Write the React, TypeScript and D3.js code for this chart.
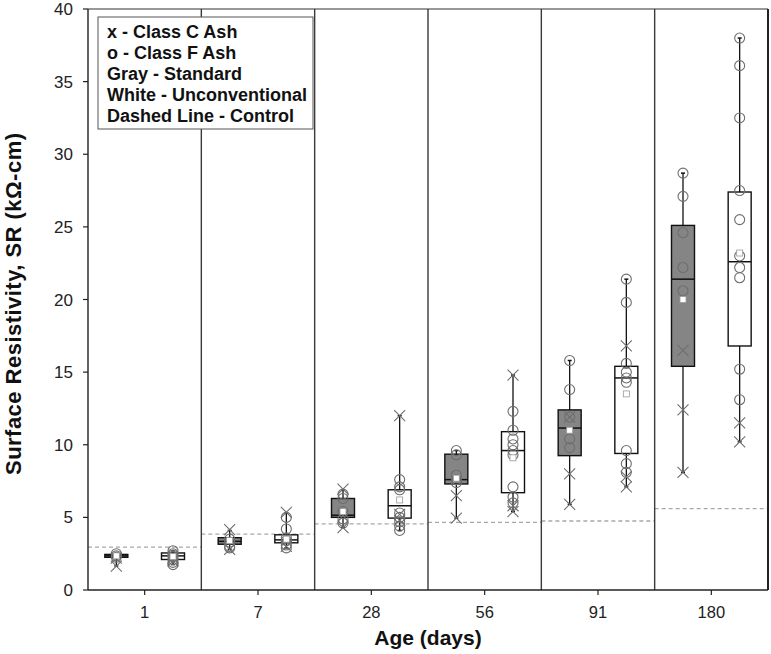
import React from "react";
import * as d3 from "d3";

const ages = ["1", "7", "28", "56", "91", "180"];
const types = ["Standard", "Unconventional"];
const yTicks = [0, 5, 10, 15, 20, 25, 30, 35, 40];
const controlSR = [2.95, 3.85, 4.55, 4.65, 4.75, 5.6];

// [age, type, q1, median, q3, whiskerLow, whiskerHigh, mean]
const boxStats: [string, string, number, number, number, number, number, number][] = [
  ["1", "Standard", 2.25, 2.35, 2.45, 1.65, 2.55, 2.35],
  ["1", "Unconventional", 2.1, 2.35, 2.55, 1.75, 2.7, 2.3],
  ["7", "Standard", 3.15, 3.35, 3.6, 2.8, 4.1, 3.4],
  ["7", "Unconventional", 3.25, 3.45, 3.8, 2.9, 5.3, 3.5],
  ["28", "Standard", 5.0, 5.15, 6.3, 4.3, 6.9, 5.4],
  ["28", "Unconventional", 4.95, 5.8, 6.9, 4.1, 12.0, 6.2],
  ["56", "Standard", 7.3, 7.6, 9.35, 4.95, 9.6, 7.7],
  ["56", "Unconventional", 6.7, 9.6, 10.9, 5.4, 14.8, 9.1],
  ["91", "Standard", 9.25, 11.15, 12.4, 5.9, 15.8, 11.0],
  ["91", "Unconventional", 9.4, 14.6, 15.4, 7.1, 21.4, 13.5],
  ["180", "Standard", 15.4, 21.4, 25.1, 8.1, 28.7, 20.0],
  ["180", "Unconventional", 16.8, 22.6, 27.4, 10.2, 38.0, 23.2],
];

// Class C ash (x markers)
const classC: [string, string, number[]][] = [
  ["1", "Standard", [1.65, 2.2]],
  ["1", "Unconventional", [2.2, 2.0]],
  ["7", "Standard", [4.15, 2.8]],
  ["7", "Unconventional", [5.35, 3.0]],
  ["28", "Standard", [6.95, 4.3, 5.1]],
  ["28", "Unconventional", [12.0, 5.2, 4.8]],
  ["56", "Standard", [6.5, 4.95]],
  ["56", "Unconventional", [14.8, 5.8, 5.4]],
  ["91", "Standard", [11.9, 8.0, 5.9]],
  ["91", "Unconventional", [16.8, 7.8, 7.1]],
  ["180", "Standard", [16.5, 12.4, 8.1]],
  ["180", "Unconventional", [11.5, 10.2]],
];

// Class F ash (o markers)
const classF: [string, string, number[]][] = [
  ["1", "Standard", [2.5, 2.35, 2.25]],
  ["1", "Unconventional", [2.7, 2.5, 2.4, 2.3, 2.1, 1.9, 1.75]],
  ["7", "Standard", [3.5, 3.3, 3.0, 2.9]],
  ["7", "Unconventional", [5.0, 4.2, 3.6, 3.4, 3.1, 2.9]],
  ["28", "Standard", [6.6, 6.3, 5.4, 4.9, 4.6]],
  ["28", "Unconventional", [7.6, 7.1, 6.9, 5.3, 5.0, 4.7, 4.4, 4.1]],
  ["56", "Standard", [9.6, 9.3, 7.9, 7.6, 7.4]],
  ["56", "Unconventional", [12.3, 11.0, 10.4, 10.0, 9.6, 9.3, 7.1, 6.4, 6.0]],
  ["91", "Standard", [15.8, 13.8, 11.9, 10.4, 9.8]],
  ["91", "Unconventional", [21.4, 19.8, 15.6, 15.0, 14.6, 14.3, 9.6, 8.7, 8.1]],
  ["180", "Standard", [28.7, 27.1, 24.6, 22.2, 20.6]],
  ["180", "Unconventional", [38.0, 36.1, 32.5, 27.5, 25.5, 23.0, 22.2, 21.5, 15.2, 13.1]],
];

const legendLines = [
  "x - Class C Ash",
  "o - Class F Ash",
  "Gray - Standard",
  "White - Unconventional",
  "Dashed Line - Control",
];

const W = 771;
const H = 654;
const left = 88;
const right = 768;
const top = 9;
const bottom = 590;
const boxW = 23;
const font = "'Liberation Sans', Arial, sans-serif";

export default function App() {
  const x = d3.scaleBand().domain(ages).range([left, right]).padding(0);
  const sub = d3.scalePoint().domain(types).range([0, x.bandwidth()]).padding(0.5);
  const y = d3.scaleLinear().domain([0, 40]).range([bottom, top]);
  const cx = (age: string, t: string) => (x(age) as number) + (sub(t) as number);
  const markerStroke = "#6e6e6e";

  return (
    <svg width={W} height={H} style={{ position: "absolute", left: 0, top: 0, background: "#fff" }}>
      <rect x={0} y={0} width={W} height={H} fill="#fff" />
      {/* control dashed lines */}
      {ages.map((a, i) => (
        <line key={"c" + a} x1={x(a)} x2={(x(a) as number) + x.bandwidth()} y1={y(controlSR[i])} y2={y(controlSR[i])}
          stroke="#a8a8a8" strokeWidth={1.3} strokeDasharray="4,3" />
      ))}
      {/* separators */}
      {ages.slice(1).map((a) => (
        <line key={"s" + a} x1={x(a)} x2={x(a)} y1={top} y2={bottom} stroke="#3a3a3a" strokeWidth={1.4} />
      ))}
      {/* frame */}
      <line x1={left} x2={right} y1={top} y2={top} stroke="#333" strokeWidth={1.2} />
      <line x1={right} x2={right} y1={top} y2={bottom} stroke="#222" strokeWidth={2} />
      <line x1={left} x2={right} y1={bottom} y2={bottom} stroke="#222" strokeWidth={1.4} />
      <line x1={left} x2={left} y1={top} y2={bottom} stroke="#222" strokeWidth={1.4} />
      {/* y ticks */}
      {yTicks.map((t) => (
        <g key={"y" + t}>
          <line x1={left - 5} x2={left} y1={y(t)} y2={y(t)} stroke="#222" strokeWidth={1.2} />
          <text x={left - 15} y={y(t)} dy="0.36em" textAnchor="end" fontFamily={font} fontSize={17} fill="#222">{t}</text>
        </g>
      ))}
      {/* x ticks */}
      {ages.map((a) => {
        const c = (x(a) as number) + x.bandwidth() / 2;
        return (
          <g key={"x" + a}>
            <line x1={c} x2={c} y1={bottom} y2={bottom + 5} stroke="#222" strokeWidth={1.2} />
            <text x={c} y={618} textAnchor="middle" fontFamily={font} fontSize={16.5} fill="#222">{a}</text>
          </g>
        );
      })}
      {/* boxes */}
      {boxStats.map(([a, t, q1, med, q3, lo, hi]) => {
        const c = cx(a, t);
        const fill = t === "Standard" ? "#858585" : "#ffffff";
        return (
          <g key={"b" + a + t}>
            <line x1={c} x2={c} y1={y(hi)} y2={y(q3)} stroke="#111" strokeWidth={1.3} />
            <line x1={c} x2={c} y1={y(q1)} y2={y(lo)} stroke="#111" strokeWidth={1.3} />
            <line x1={c - 2} x2={c + 2} y1={y(hi)} y2={y(hi)} stroke="#111" strokeWidth={1.5} />
            <line x1={c - 2} x2={c + 2} y1={y(lo)} y2={y(lo)} stroke="#111" strokeWidth={1.5} />
            <rect x={c - boxW / 2} y={y(q3)} width={boxW} height={Math.max(y(q1) - y(q3), 1)} fill={fill} stroke="#111" strokeWidth={1.4} />
            <line x1={c - boxW / 2} x2={c + boxW / 2} y1={y(med)} y2={y(med)} stroke="#111" strokeWidth={1.5} />
          </g>
        );
      })}
      {/* class F circles */}
      {classF.map(([a, t, vals]) => vals.map((v, i) => (
        <circle key={"f" + a + t + i} cx={cx(a, t)} cy={y(v)} r={5} fill="none" stroke={markerStroke} strokeWidth={1.1} />
      )))}
      {/* class C crosses */}
      {classC.map(([a, t, vals]) => vals.map((v, i) => {
        const c = cx(a, t);
        const yy = y(v);
        const s = 5.5;
        return (
          <path key={"x" + a + t + i} d={`M${c - s},${yy - s}L${c + s},${yy + s}M${c - s},${yy + s}L${c + s},${yy - s}`}
            stroke={markerStroke} strokeWidth={1.1} fill="none" />
        );
      }))}
      {/* means */}
      {boxStats.map(([a, t, , , , , , mean]) => (
        <rect key={"m" + a + t} x={cx(a, t) - 3} y={y(mean) - 3} width={6} height={6} fill="#fff" stroke="#999" strokeWidth={0.8} />
      ))}
      {/* legend */}
      <rect x={98} y={17} width={215} height={112} fill="#fff" stroke="#555" strokeWidth={1} />
      {legendLines.map((l, i) => (
        <text key={"l" + i} x={107} y={38 + i * 21} fontFamily={font} fontSize={18} fontWeight="bold" fill="#111">{l}</text>
      ))}
      {/* axis titles */}
      <text transform={`translate(21,304) rotate(-90)`} textAnchor="middle" fontFamily={font}
        fontSize={22} fontWeight="bold" fill="#111" textLength={342} lengthAdjust="spacing">Surface Resistivity, SR (kΩ-cm)</text>
      <text x={(left + right) / 2} y={645} textAnchor="middle" fontFamily={font} fontSize={21} fontWeight="bold" fill="#111">Age (days)</text>
    </svg>
  );
}
